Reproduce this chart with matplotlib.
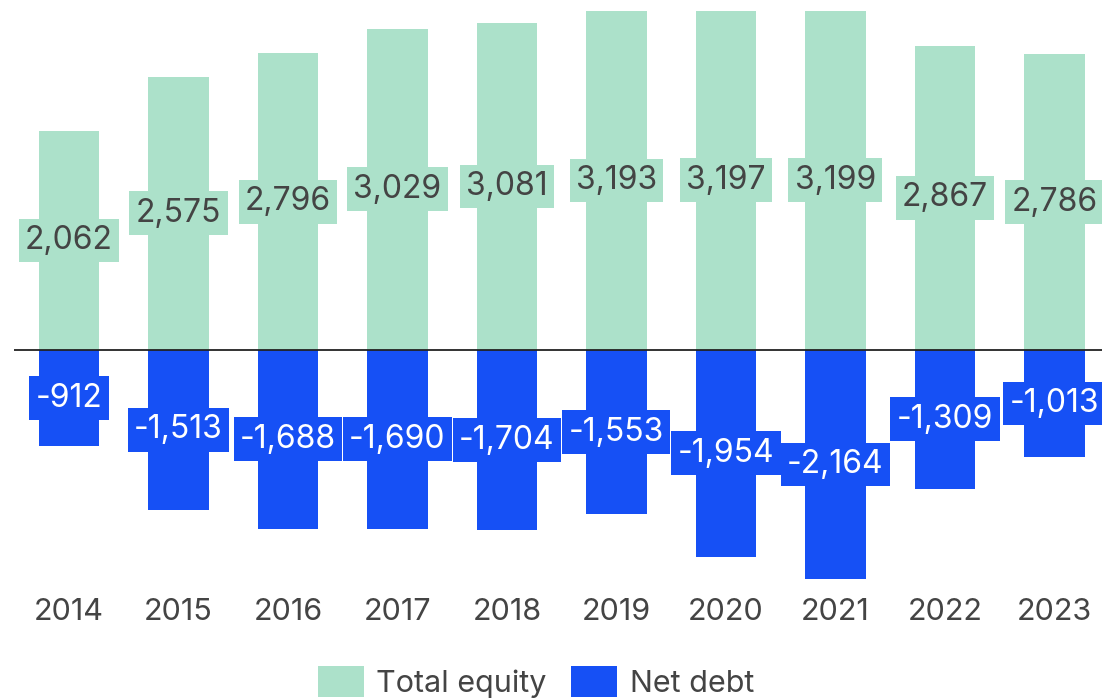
import matplotlib
matplotlib.use("Agg")
import matplotlib.pyplot as plt
from matplotlib.patches import Patch

years = ["2014", "2015", "2016", "2017", "2018", "2019", "2020", "2021", "2022", "2023"]
total_equity = [2062, 2575, 2796, 3029, 3081, 3193, 3197, 3199, 2867, 2786]
net_debt = [-912, -1513, -1688, -1690, -1704, -1553, -1954, -2164, -1309, -1013]

GREEN = "#ACE1CA"
BLUE = "#1650F5"
TEXT = "#444444"

plt.rcParams["font.family"] = ["Inter", "DejaVu Sans"]

fig = plt.figure(figsize=(11.02, 7.0), dpi=100)
ax = fig.add_axes([14 / 1102, 1 - 593.6 / 700, 1 - 14 / 1102, 593.6 / 700])

x = list(range(len(years)))
ax.bar(x, total_equity, width=0.55, color=GREEN, zorder=2)
ax.bar(x, net_debt, width=0.55, color=BLUE, zorder=2)
ax.axhline(0, color="#222222", lw=1.3, zorder=3)

for xi, v in zip(x, total_equity):
    ax.text(xi, v / 2, f"{v:,}", ha="center", va="center", fontsize=23,
            color=TEXT, zorder=4,
            bbox=dict(boxstyle="square,pad=0.2", fc=GREEN, ec="none"))
for xi, v in zip(x, net_debt):
    ax.text(xi, v / 2, f"{v:,}", ha="center", va="center", fontsize=23,
            color="white", zorder=4,
            bbox=dict(boxstyle="square,pad=0.2", fc=BLUE, ec="none"))

ax.set_xlim(-0.502, 9.434)
ax.set_ylim(-2300, 3300)
ax.set_xticks(x)
ax.set_xticklabels(years, fontsize=22, color=TEXT)
ax.tick_params(axis="x", length=0, pad=3)
ax.set_yticks([])
for s in ax.spines.values():
    s.set_visible(False)

handles = [Patch(facecolor=GREEN, label="Total equity"),
           Patch(facecolor=BLUE, label="Net debt")]
leg = fig.legend(handles=handles, loc="center", bbox_to_anchor=(536 / 1102, 1 - 682 / 700),
                 ncol=2, frameon=False, fontsize=22, handlelength=1.5, handleheight=1.15,
                 handletextpad=0.42, columnspacing=0.8, borderpad=0, borderaxespad=0)
for t in leg.get_texts():
    t.set_color(TEXT)

fig.savefig("out.png", dpi=100)
